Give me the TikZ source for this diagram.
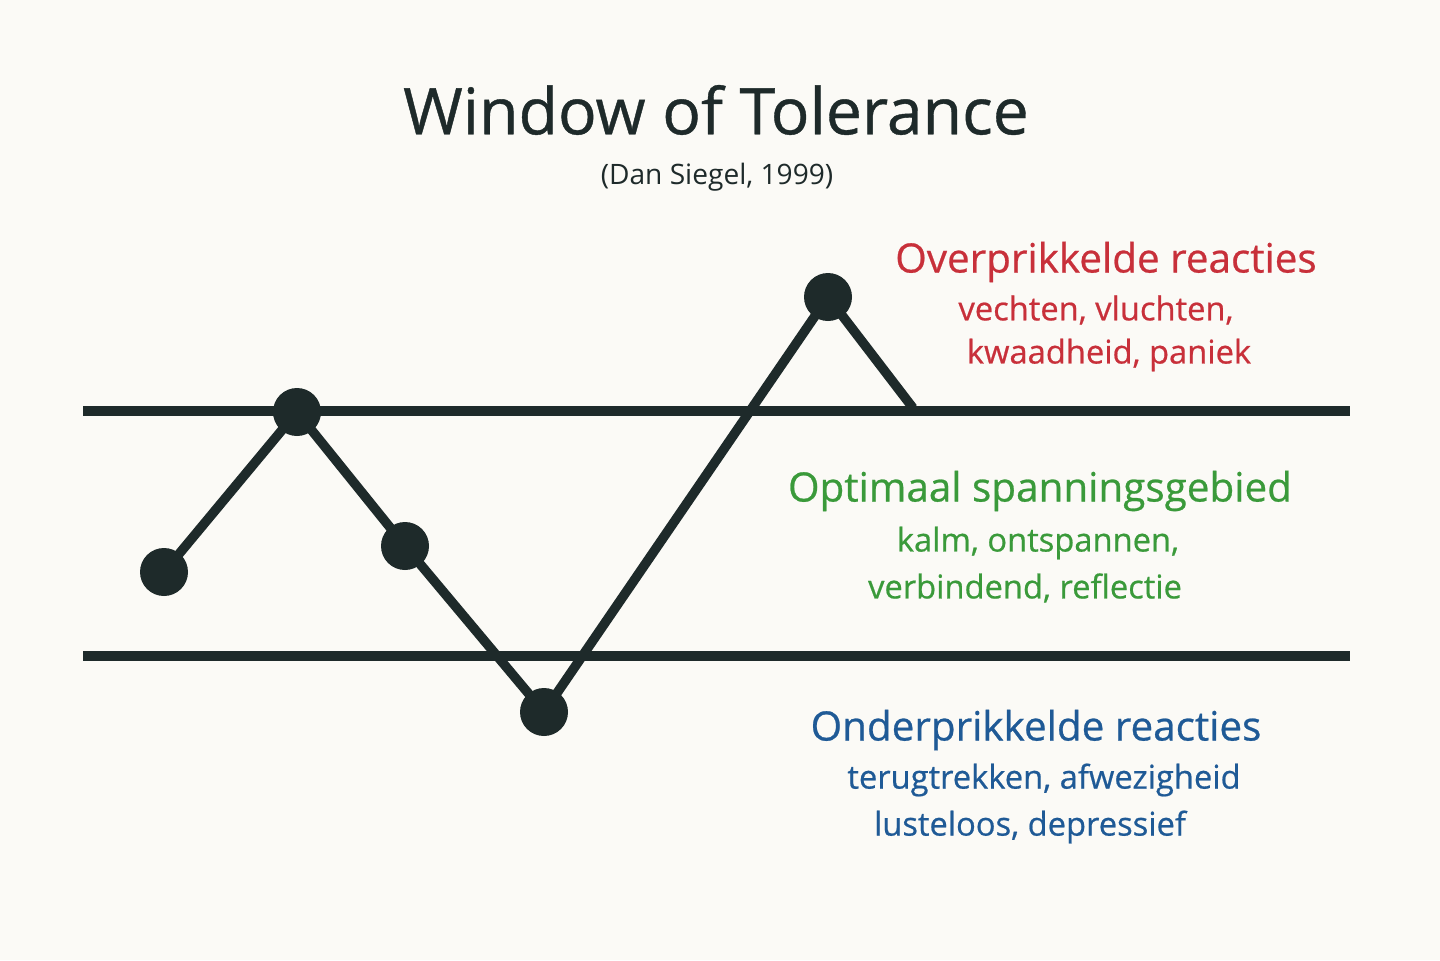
\documentclass[tikz,border=0pt]{standalone}
\usepackage{fontspec}
\setmainfont{Open Sans}[FakeBold=0.6]
\newfontfamily\plainf{Open Sans}
\definecolor{bg}{HTML}{FBFAF6}
\definecolor{ink}{HTML}{1E2A2A}
\definecolor{redt}{HTML}{C8303A}
\definecolor{greent}{HTML}{3A9A3A}
\definecolor{bluet}{HTML}{1F5A96}
\tikzset{
  bar/.style={ink,line width=2.9pt},
  path/.style={ink,line width=2.7pt,line join=round},
  dot/.style={circle,fill=ink,inner sep=0pt,minimum size=0.48cm},
  head/.style={font=\fontsize{11.5}{13}\selectfont},
  sub/.style={font=\fontsize{9.3}{11}\selectfont}
}
\begin{document}
\begin{tikzpicture}[x=1cm,y=1cm]
\fill[bg] (0,0) rectangle (14.4,9.6);
\useasboundingbox (0,0) rectangle (14.4,9.6);
\node[ink,font=\fontsize{18.3}{20}\selectfont] (title) at (7.16,8.50) {Window of Tolerance};
\node[ink,font=\plainf\fontsize{8}{10}\selectfont] (subt) at (7.17,7.83) {(Dan Siegel, 1999)};
\coordinate (l1a) at (0.83,5.49); \coordinate (l1b) at (13.5,5.49);
\coordinate (l2a) at (0.83,3.04); \coordinate (l2b) at (13.5,3.04);
\draw[bar] (l1a) -- (l1b);
\draw[bar] (l2a) -- (l2b);
\node[dot] (p1) at (1.64,3.88) {};
\node[dot] (p2) at (2.97,5.48) {};
\node[dot] (p3) at (4.05,4.14) {};
\node[dot] (p4) at (5.44,2.48) {};
\node[dot] (p5) at (8.28,6.63) {};
\coordinate (p6) at (9.13,5.52);
\draw[path] (p1.center) -- (p2.center) -- (p3.center) -- (p4.center) -- (p5.center) -- (p6);
\node[redt,head] (rh) at (11.06,6.98) {Overprikkelde reacties};
\node[redt,sub] (r1) at (10.96,6.50) {vechten, vluchten,};
\node[redt,sub] (r2) at (11.09,6.05) {kwaadheid, paniek};
\node[greent,head] (gh) at (10.40,4.69) {Optimaal spanningsgebied};
\node[greent,sub] (g1) at (10.38,4.17) {kalm, ontspannen,};
\node[greent,sub] (g2) at (10.25,3.72) {verbindend, reflectie};
\node[bluet,head] (bh) at (10.36,2.30) {Onderprikkelde reacties};
\node[bluet,sub] (b1) at (10.44,1.80) {terugtrekken, afwezigheid};
\node[bluet,sub] (b2) at (10.30,1.33) {lusteloos, depressief};
\end{tikzpicture}
\end{document}
